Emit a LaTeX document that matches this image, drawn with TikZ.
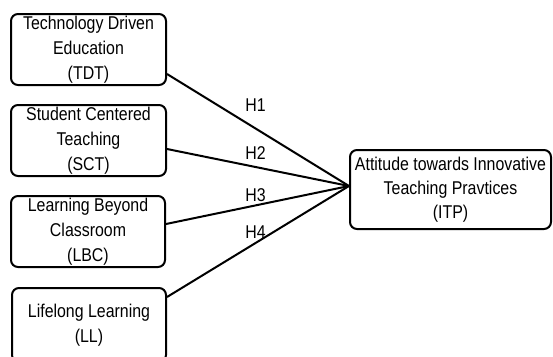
\documentclass[tikz,border=0pt]{standalone}
\usepackage{fontspec}
\setmainfont{Liberation Sans}[FakeStretch=0.86]
\usetikzlibrary{calc}
\begin{document}
\begin{tikzpicture}[x=1pt,y=-1pt,
  box/.style={draw=black, line width=2pt, rounded corners=7pt, inner sep=0pt,
    align=center, font=\fontsize{18.5}{25}\selectfont},
  link/.style={draw=black, line width=2pt},
  hyp/.style={inner sep=0pt, font=\fontsize{18.5}{22}\selectfont}]
\clip (0,0) rectangle (553,356);
\fill[white] (0,0) rectangle (553,356);
\node[box, minimum width=155pt, minimum height=71pt] (tdt) at (88.5,49.5)
  {Technology Driven\\Education\\(TDT)};
\node[box, minimum width=155pt, minimum height=71pt] (sct) at (88.5,140.5)
  {Student Centered\\Teaching\\(SCT)};
\node[box, minimum width=154pt, minimum height=71pt] (lbc) at (88,231.5)
  {Learning Beyond\\Classroom\\(LBC)};
\node[box, minimum width=154pt, minimum height=74pt] (ll) at (89,325)
  {Lifelong Learning\\(LL)};
\node[box, minimum width=201pt, minimum height=79pt, font=\fontsize{18.5}{24}\selectfont] (itp) at (450.5,189.5)
  {Attitude towards Innovative\\Teaching Pravtices\\(ITP)};
\coordinate (hub) at ($(itp.west)+(0,-3.5)$);
\draw[link] ($(tdt.south east)+(0,-12)$) -- (hub);
\draw[link] ($(sct.south east)+(0,-28)$) -- (hub);
\draw[link] ($(lbc.south east)+(0,-44)$) -- (hub);
\draw[link] ($(ll.north east)+(0,10)$) -- (hub);
\node[hyp] (h1) at (255.5,105) {H1};
\node[hyp] (h2) at (255.5,153) {H2};
\node[hyp] (h3) at (255.5,195) {H3};
\node[hyp] (h4) at (255.5,232) {H4};
\end{tikzpicture}
\end{document}
